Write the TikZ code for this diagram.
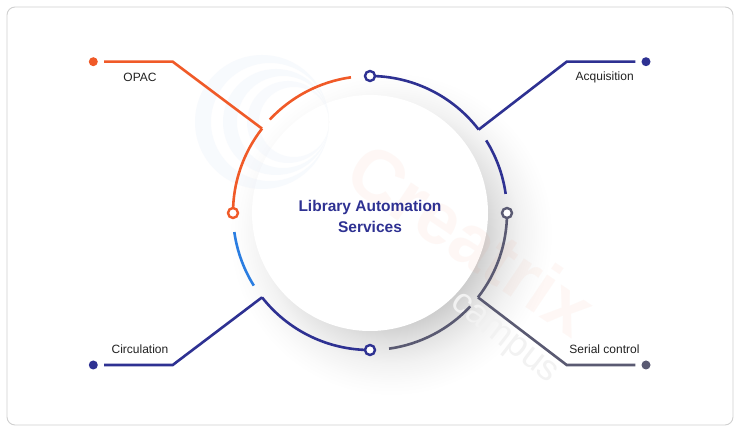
\documentclass[tikz,border=0pt]{standalone}
\usepackage{fontspec}
\setmainfont{Liberation Sans}
\definecolor{opacorange}{HTML}{F05A28}
\definecolor{servnavy}{HTML}{2E3192}
\definecolor{serialgrey}{HTML}{5A5A72}
\definecolor{circblue}{HTML}{2A7DE1}
\definecolor{labeltext}{HTML}{222222}
\definecolor{framegrey}{HTML}{D0D0D0}
\definecolor{markblue}{HTML}{EAF1FA}
\pgfdeclareradialshading{discshadow}{\pgfpointorigin}{%
  color(0bp)=(black!20); color(13.5bp)=(black!20); color(16.5bp)=(black!12);
  color(20bp)=(black!5); color(23bp)=(black!1.5); color(25bp)=(white); color(50bp)=(white)}

\begin{document}
\begin{tikzpicture}[
  x=1pt, y=1pt,
  wire/.style={line width=2.6pt},
  ring/.style={circle, line width=2.4pt, fill=white, minimum size=10pt, inner sep=0pt},
  tip/.style={circle, minimum size=9pt, inner sep=0pt},
  lbl/.style={text=labeltext, font=\fontsize{12}{14}\selectfont, inner sep=0pt},
  hubtext/.style={text=servnavy, font=\bfseries\fontsize{15.5}{21.6}\selectfont, align=center}
]
\useasboundingbox (0,0) rectangle (740,431);
\draw[framegrey, line width=0.9pt, rounded corners=8pt, fill=white] (7,6) rectangle (733,424);

% shadow and disc
\coordinate (c) at (370,218);
\shade[shading=discshadow] (391,197) circle[radius=162pt];
\fill[white] (c) circle[radius=118pt];

% faint logo and watermark
\fill[markblue, opacity=0.35, even odd rule] (262,309) circle[radius=67pt] (270,309) circle[radius=59pt];
\fill[markblue, opacity=0.35, even odd rule] (276,309) circle[radius=53pt] (283,309) circle[radius=46pt];
\fill[markblue, opacity=0.3, even odd rule] (288,309) circle[radius=41pt] (294,309) circle[radius=35pt];
\node[text=opacorange, opacity=0.045, font=\bfseries\fontsize{74}{74}\selectfont, rotate=-34] (wmark) at (472,192) {Creatrix};
\node[text=black!5, font=\fontsize{36}{36}\selectfont, rotate=-38] (wsub) at (503,91) {campus};

% OPAC
\coordinate (jopac) at ([shift={(142:137pt)}]c);
\coordinate (eopac) at (172.7,369.3);
\node[tip, fill=opacorange] (dopac) at (93.3,369.3) {};
\draw[wire, opacorange, shorten >=6pt] (jopac) -- (eopac) -- (dopac.east);
\draw[wire, opacorange] (jopac) arc[start angle=142, end angle=180, radius=137pt];
\draw[wire, opacorange] ([shift={(137:137pt)}]c) arc[start angle=137, end angle=98, radius=137pt];
\node[lbl] (lopac) at (140,353.3) {OPAC};

% Acquisition
\coordinate (jacq) at ([shift={(37.5:137pt)}]c);
\coordinate (eacq) at (566.7,369.3);
\node[tip, fill=servnavy] (dacq) at (646,369.3) {};
\draw[wire, servnavy, shorten >=6pt] (jacq) -- (eacq) -- (dacq.west);
\draw[wire, servnavy] (jacq) arc[start angle=37.5, end angle=90, radius=137pt];
\draw[wire, servnavy] ([shift={(32:137pt)}]c) arc[start angle=32, end angle=8, radius=137pt];
\node[lbl] (lacq) at (604.7,353.3) {Acquisition};

% Circulation
\coordinate (jcirc) at ([shift={(218:137pt)}]c);
\coordinate (ecirc) at (172.7,66);
\node[tip, fill=servnavy] (dcirc) at (93.3,66) {};
\draw[wire, servnavy, shorten >=6pt] (jcirc) -- (ecirc) -- (dcirc.east);
\draw[wire, servnavy] (jcirc) arc[start angle=218, end angle=270, radius=137pt];
\draw[wire, circblue] ([shift={(212:137pt)}]c) arc[start angle=212, end angle=188, radius=137pt];
\node[lbl] (lcirc) at (140,82) {Circulation};

% Serial control
\coordinate (jser) at ([shift={(322:137pt)}]c);
\coordinate (eser) at (566.7,66);
\node[tip, fill=serialgrey] (dser) at (646,66) {};
\draw[wire, serialgrey, shorten >=6pt] (jser) -- (eser) -- (dser.west);
\draw[wire, serialgrey] (jser) arc[start angle=322, end angle=360, radius=137pt];
\draw[wire, serialgrey] ([shift={(317:137pt)}]c) arc[start angle=317, end angle=278, radius=137pt];
\node[lbl] (lser) at (604.5,82) {Serial control};

% ring markers
\node[ring, draw=servnavy] (rtop) at ([shift={(90:137pt)}]c) {};
\node[ring, draw=serialgrey] (rright) at ([shift={(0:137pt)}]c) {};
\node[ring, draw=servnavy] (rbottom) at ([shift={(270:137pt)}]c) {};
\node[ring, draw=opacorange] (rleft) at ([shift={(180:137pt)}]c) {};

\node[hubtext] (hub) at (370,214.5) {Library Automation\\Services};
\end{tikzpicture}
\end{document}
